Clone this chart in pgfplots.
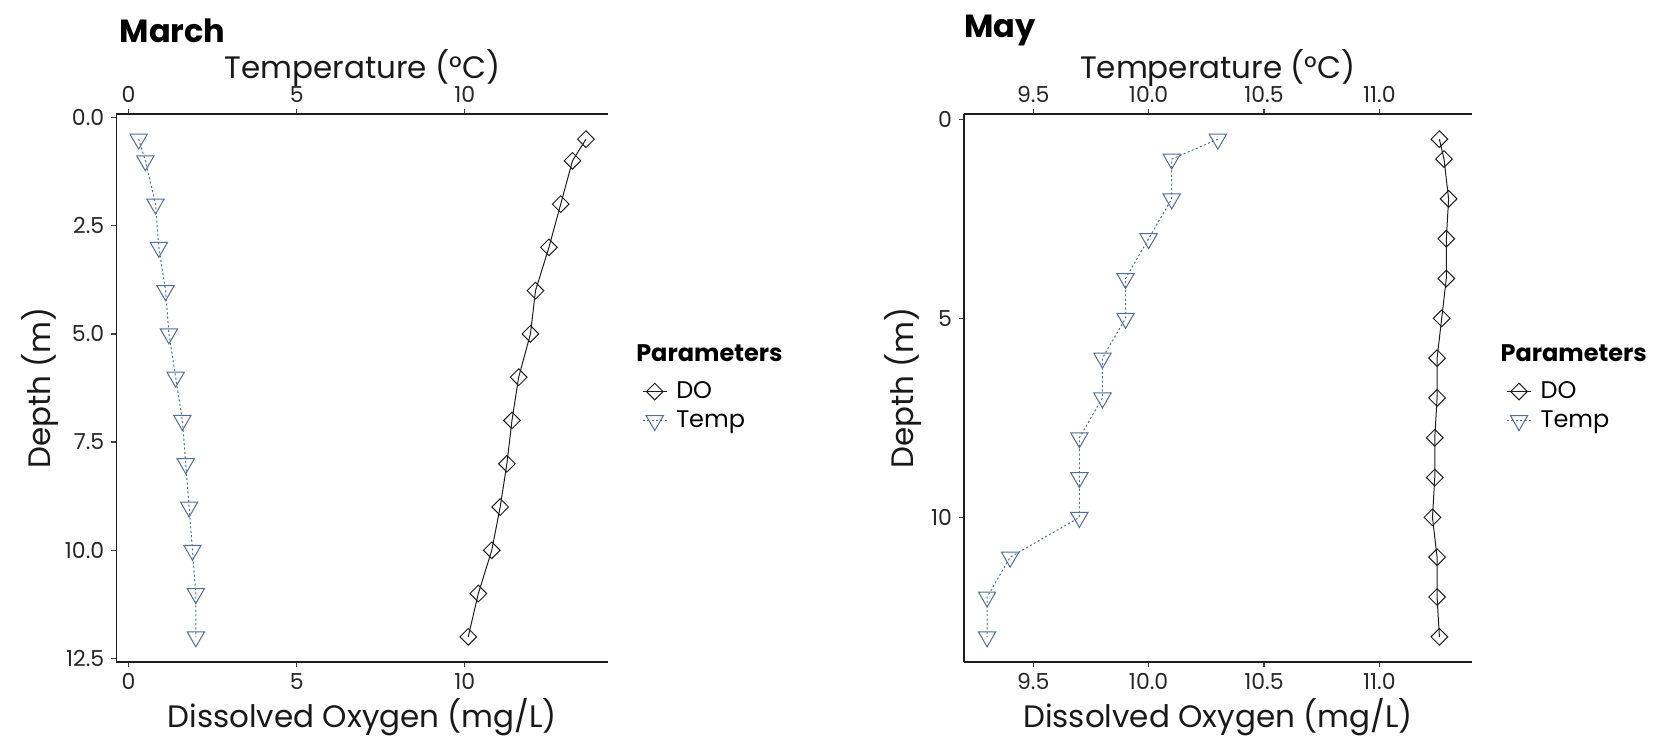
\documentclass[border=0pt]{standalone}
\usepackage{fontspec}
\setmainfont{Poppins}
\usepackage{pgfplots}
\usepackage{pgfplotstable}
\pgfplotsset{compat=1.18}
\definecolor{tempc}{RGB}{80,110,150}
\definecolor{axc}{RGB}{30,30,30}

\pgfplotstableread{
depth DO Temp
0.5 13.6 0.3
1 13.2 0.5
2 12.85 0.8
3 12.5 0.9
4 12.1 1.1
5 11.95 1.2
6 11.6 1.4
7 11.4 1.6
8 11.25 1.7
9 11.05 1.8
10 10.8 1.9
11 10.4 2.0
12 10.1 2.0
}\march

\pgfplotstableread{
depth DO Temp
0.5 11.26 10.3
1 11.28 10.1
2 11.30 10.1
3 11.29 10.0
4 11.29 9.9
5 11.27 9.9
6 11.25 9.8
7 11.25 9.8
8 11.24 9.7
9 11.24 9.7
10 11.23 9.7
11 11.25 9.4
12 11.25 9.3
13 11.26 9.3
}\may

\pgfplotsset{
  panelbase/.style={
    scale only axis, anchor=south west, y dir=reverse,
    axis line style={-, axc, line width=0.8pt},
    tick align=outside, major tick length=2.5pt,
    tick style={black!75, line width=0.6pt},
    every tick label/.append style={font=\fontsize{11}{11}\selectfont, text=black!85},
    label style={font=\fontsize{15.5}{15.5}\selectfont, text=black!90},
    /pgf/number format/assume math mode=true,
  },
  panel/.style={
    panelbase,
    axis x line*=bottom, axis y line*=left,
    clip mode=individual,
    xlabel={Dissolved Oxygen (mg/L)},
    ylabel={Depth (m)},
    xlabel style={at={(axis description cs:0.5,-0.101)}, anchor=center},
    legend style={at={(axis description cs:1.056,0.467)}, anchor=west, draw=none, fill=none,
      font=\fontsize{12}{12}\selectfont, nodes={inner sep=1.5pt, text height=9pt, text depth=2.5pt},
      /tikz/every odd column/.append style={column sep=3pt}},
    legend cell align=left,
    legend image code/.code={\draw[mark repeat=2,mark phase=2,##1] plot coordinates {(0pt,0pt)(6pt,0pt)(12pt,0pt)};},
  },
  toppanel/.style={
    panelbase,
    axis x line*=top, axis y line=none, ytick=\empty,
    xlabel={Temperature (°C)},
    xlabel style={at={(axis description cs:0.5,1.085)}, anchor=center},
  },
  dostyle/.style={axc, line width=0.5pt, solid, mark=square, mark size=2.95pt, mark options={rotate=45, solid, fill=none}},
  tempstyle/.style={tempc, line width=0.5pt, dash pattern=on 1pt off 1.2pt, mark=triangle, mark size=5pt, mark options={rotate=180, solid, fill=none}},
}

\begin{document}
\begin{tikzpicture}
\useasboundingbox (0,0) rectangle (828pt,369.5pt);

% ---------- March ----------
\begin{axis}[panel, at={(58.15pt,38.65pt)}, width=246pt, height=273.7pt,
  xmin=-0.365, xmax=14.265, ymin=-0.075, ymax=12.575,
  xtick={0,5,10}, ytick={0,2.5,5,7.5,10,12.5},
  yticklabel style={/pgf/number format/.cd, fixed, fixed zerofill, precision=1},
  ylabel style={at={(axis description cs:-0.1545,0.5)}, anchor=center}]
  \addplot[dostyle] table[x=DO, y=depth] {\march};
  \addlegendentry{DO}
  \addplot[tempstyle] table[x=Temp, y=depth] {\march};
  \addlegendentry{Temp}
  \node[anchor=west, inner sep=0pt, font=\bfseries\fontsize{12}{12}\selectfont] at (axis description cs:1.056,0.564) {Parameters};
  \node[anchor=west, inner sep=0pt, font=\bfseries\fontsize{16}{16}\selectfont] at (axis description cs:0.006,1.153) {March};
\end{axis}
\begin{axis}[toppanel, at={(58.15pt,38.65pt)}, width=246pt, height=273.7pt,
  xmin=-0.365, xmax=14.265, ymin=-0.075, ymax=12.575,
  xtick={0,5,10}]
\end{axis}

% ---------- May ----------
\begin{axis}[panel, at={(482pt,38.65pt)}, width=253.85pt, height=273.7pt,
  xmin=9.2, xmax=11.4, ymin=-0.125, ymax=13.625,
  xtick={9.5,10,10.5,11}, ytick={0,5,10},
  xticklabel style={/pgf/number format/.cd, fixed, fixed zerofill, precision=1},
  ylabel style={at={(axis description cs:-0.120,0.5)}, anchor=center}]
  \addplot[dostyle] table[x=DO, y=depth] {\may};
  \addlegendentry{DO}
  \addplot[tempstyle] table[x=Temp, y=depth] {\may};
  \addlegendentry{Temp}
  \node[anchor=west, inner sep=0pt, font=\bfseries\fontsize{12}{12}\selectfont] at (axis description cs:1.056,0.564) {Parameters};
  \node[anchor=west, inner sep=0pt, font=\bfseries\fontsize{16}{16}\selectfont] at (axis description cs:0.0,1.153) {May};
\end{axis}
\begin{axis}[toppanel, at={(482pt,38.65pt)}, width=253.85pt, height=273.7pt,
  xmin=9.2, xmax=11.4, ymin=-0.125, ymax=13.625,
  xtick={9.5,10,10.5,11},
  xticklabel style={/pgf/number format/.cd, fixed, fixed zerofill, precision=1}]
\end{axis}
\end{tikzpicture}
\end{document}
